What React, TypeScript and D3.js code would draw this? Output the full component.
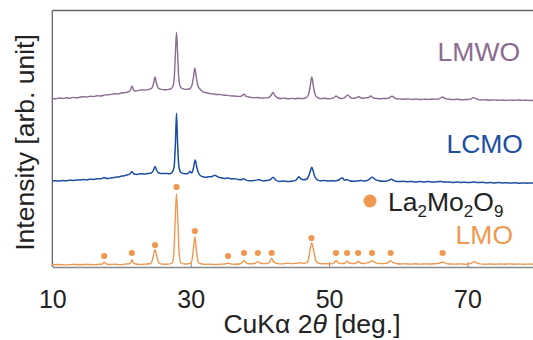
// App.tsx
import React, { useEffect, useRef } from "react";
import * as d3 from "d3";

// 2theta (deg) vs stacked intensity (arb. unit, offsets included)
const lmwo: [number, number][] = [
  [10, 168.5], [10.5, 168.2], [11, 169], [11.5, 168.6], [12, 169.2], [12.5, 168.8], [13, 169.6],
  [13.5, 169.2], [14, 169.8], [14.5, 170.3], [15, 170], [15.5, 170.8], [16, 170.5], [16.5, 171.3],
  [17, 171], [17.5, 171.9], [18, 172.2], [18.5, 172.6], [19, 173.3], [19.5, 173.1], [20, 174],
  [20.5, 174.4], [21, 175.2], [21.3, 177], [21.5, 181], [21.75, 177], [22, 176], [22.5, 176.6],
  [23, 177.3], [23.5, 176.9], [24, 177.6], [24.4, 179], [24.65, 184], [24.85, 190], [25.05, 184],
  [25.3, 179], [25.7, 177.6], [26.2, 177.2], [26.7, 177.4], [27.1, 178], [27.45, 181], [27.65, 192],
  [27.8, 215], [27.95, 234.5], [28.1, 215], [28.25, 192], [28.45, 181], [28.8, 178.3], [29.3, 177.6],
  [29.8, 178], [30.15, 181], [30.4, 190], [30.6, 199], [30.8, 190], [31.05, 181], [31.4, 177.5],
  [31.8, 175.2], [32.3, 174.2], [32.8, 173.4], [33.3, 173], [33.8, 172.5], [34.3, 172.4], [34.8, 171.8],
  [35.3, 171.6], [35.8, 171.1], [36.3, 171], [36.8, 170.6], [37.3, 170.8], [37.7, 172.7], [38.1, 170.4],
  [38.6, 169.8], [39.1, 169.3], [39.6, 169.5], [40.1, 168.9], [40.6, 169.1], [41.2, 169.4], [41.6, 171.5],
  [41.9, 174.5], [42.2, 171.2], [42.6, 169], [43.1, 168.5], [43.6, 168.8], [44.1, 168.2], [44.6, 168.6],
  [45.1, 168.3], [45.6, 168.7], [46.1, 168.4], [46.6, 169], [47, 172], [47.25, 180], [47.5, 190],
  [47.75, 180], [48, 172], [48.4, 169.2], [48.9, 168.4], [49.4, 168.7], [49.9, 168.2], [50.4, 168.6],
  [50.8, 169.8], [51, 171], [51.3, 169.6], [51.7, 168.5], [52.2, 169.2], [52.7, 172], [53.1, 169.4],
  [53.6, 168.6], [54.3, 170.2], [54.8, 168.7], [55.3, 169.1], [55.7, 169.4], [56, 171], [56.4, 169],
  [56.9, 168.5], [57.4, 168.2], [57.9, 168.5], [58.5, 168.6], [59.1, 170.8], [59.6, 168.5], [60.2, 168.1],
  [60.8, 167.8], [61.4, 168.1], [62, 167.6], [62.6, 167.9], [63.2, 167.5], [63.8, 167.8], [64.4, 167.6],
  [65, 168], [65.6, 167.8], [66, 168.6], [66.4, 170], [66.8, 168.3], [67.3, 167.8], [67.9, 167.4],
  [68.5, 167.7], [69.1, 167.2], [69.7, 167.5], [70.3, 167.6], [70.9, 169.4], [71.4, 167.6], [72, 167],
  [72.6, 167.3], [73.2, 166.8], [73.8, 167.1], [74.4, 166.7], [75, 167], [75.6, 166.6], [76.2, 166.9],
  [76.8, 166.7], [77.4, 167], [78, 166.6], [78.6, 166.8], [79.2, 166.5], [80, 166.7],
];

const lcmo: [number, number][] = [
  [10, 86], [10.5, 86.3], [11, 85.9], [11.5, 86.5], [12, 86.2], [12.5, 86.8], [13, 86.5], [13.5, 87.1],
  [14, 86.9], [14.5, 87.4], [15, 87.2], [15.5, 87.8], [16, 87.6], [16.5, 88.3], [17, 88.2], [17.5, 89.6],
  [17.9, 88.4], [18.4, 88.9], [18.9, 89.6], [19.4, 89.9], [19.9, 90.7], [20.4, 91.2], [20.9, 92.2],
  [21.2, 93], [21.5, 95.5], [21.8, 93], [22.3, 92.6], [22.8, 93.2], [23.3, 92.9], [23.8, 93.4],
  [24.3, 94], [24.6, 96.5], [24.85, 100.5], [25.1, 96.5], [25.4, 94], [25.9, 93.4], [26.4, 93.6],
  [26.9, 93.2], [27.3, 94.5], [27.6, 100], [27.8, 125], [27.95, 153.7], [28.1, 125], [28.3, 100],
  [28.6, 94.5], [29.1, 93.2], [29.6, 93.6], [29.9, 95.4], [30.15, 94], [30.4, 99], [30.65, 107],
  [30.9, 99], [31.2, 93], [31.6, 90.6], [32.1, 89.8], [32.6, 90.2], [33.1, 90.6], [33.5, 91.7],
  [33.9, 90.1], [34.4, 89.2], [34.9, 88.6], [35.4, 88.9], [35.9, 88.1], [36.4, 88.3], [36.9, 87.5],
  [37.3, 87.2], [37.6, 88.2], [38, 86.9], [38.6, 86.3], [39.2, 86.6], [39.9, 87.2], [40.5, 86.1],
  [41, 86.5], [41.5, 87.2], [41.9, 89.7], [42.3, 87], [42.8, 85.6], [43.4, 85.9], [44, 85.4],
  [44.6, 85.8], [45.1, 86.4], [45.4, 88.2], [45.6, 90.3], [45.9, 88.4], [46.3, 87.2], [46.8, 88],
  [47.1, 92], [47.3, 96], [47.5, 99.7], [47.7, 96], [47.9, 91], [48.3, 87.2], [48.8, 86.2],
  [49.3, 86.6], [49.8, 85.9], [50.3, 86.3], [50.8, 86], [51.3, 86.7], [51.9, 89.3], [52.2, 86.8],
  [52.5, 87.6], [53, 86.2], [53.5, 85.7], [54.1, 86.1], [54.6, 86.6], [55.1, 86.1], [55.7, 87.2],
  [56.2, 89.7], [56.7, 87.4], [57.2, 86.3], [57.8, 85.8], [58.4, 86.1], [59, 87.7], [59.5, 86],
  [60.1, 85.4], [60.7, 85.8], [61.3, 85.2], [61.9, 85.6], [62.5, 85.1], [63.1, 85.5], [63.7, 85],
  [64.3, 85.4], [64.9, 84.9], [65.5, 85.3], [66.1, 85.5], [66.7, 84.8], [67.3, 85.1], [67.9, 84.6],
  [68.5, 84.9], [69.1, 84.5], [69.7, 84.8], [70.3, 84.4], [70.9, 85.1], [71.5, 84.4], [72.1, 84.7],
  [72.7, 84.2], [73.3, 84.5], [73.9, 84.1], [74.5, 84.4], [75.1, 84], [75.7, 84.3], [76.3, 83.9],
  [76.9, 84.2], [77.5, 83.8], [78.1, 84.1], [78.7, 83.8], [79.3, 84], [80, 83.8],
];

const lmo: [number, number][] = [
  [10, 2.2], [11, 2.5], [12, 2.1], [13, 2.6], [14, 2.3], [15, 2.6], [16, 2.4], [16.9, 2.7],
  [17.2, 3], [17.5, 4.7], [17.8, 3], [18.3, 2.5], [19, 2.8], [19.8, 2.4], [20.5, 2.9], [21.1, 3.1],
  [21.3, 4.2], [21.5, 7.3], [21.7, 4.2], [22, 3], [22.7, 2.6], [23.4, 2.9], [24.1, 3.2], [24.4, 5.5],
  [24.6, 11], [24.85, 17.3], [25.1, 11], [25.3, 5.5], [25.6, 3.1], [26.2, 2.7], [26.8, 2.9],
  [27.3, 4], [27.55, 12], [27.75, 45], [27.95, 73], [28.15, 45], [28.35, 12], [28.6, 4], [29.1, 3],
  [29.7, 3.3], [30.1, 4.5], [30.35, 15], [30.6, 30.3], [30.85, 15], [31.1, 4.5], [31.6, 3],
  [32.2, 2.6], [32.8, 2.8], [33.5, 2.5], [34.2, 2.8], [34.9, 3], [35.4, 3.7], [35.9, 2.9], [36.5, 2.7],
  [37.2, 3.2], [37.45, 4.5], [37.7, 6.3], [37.95, 4.5], [38.3, 3.2], [38.9, 3.3], [39.4, 4],
  [39.7, 5.4], [40, 4], [40.6, 3.4], [41.2, 3.8], [41.45, 5.5], [41.7, 8.5], [41.95, 5.5], [42.3, 3.8],
  [42.9, 3.1], [43.5, 3.3], [44.1, 3.9], [44.6, 3.4], [45.2, 3.6], [45.8, 4.2], [46.3, 3.6],
  [46.8, 4.5], [47.05, 9], [47.3, 19], [47.5, 24], [47.75, 17], [48, 8], [48.3, 4.3], [48.9, 3.2],
  [49.5, 3.4], [50.2, 3.1], [50.7, 4], [51, 6.5], [51.3, 4.2], [51.8, 3.5], [52.3, 3.8], [52.6, 5.8],
  [52.9, 4], [53.5, 3.4], [53.9, 4], [54.2, 5.5], [54.5, 4], [55, 3.5], [55.6, 4.4], [55.9, 5],
  [56.2, 6.4], [56.5, 5], [56.9, 3.9], [57.5, 3.4], [58.2, 3.6], [58.6, 4.6], [58.9, 6.3], [59.2, 4.6],
  [59.7, 3.5], [60.4, 3], [61.1, 3.2], [61.8, 2.9], [62.5, 3.2], [63.2, 2.9], [63.9, 3.1], [64.6, 3],
  [65.3, 3.3], [65.9, 3.7], [66.4, 5], [66.9, 3.6], [67.5, 3], [68.2, 2.9], [68.9, 3.1], [69.6, 2.8],
  [70.3, 3.1], [70.7, 4.2], [71, 5.4], [71.3, 4.2], [71.8, 3.1], [72.5, 2.8], [73.2, 3], [73.9, 2.7],
  [74.6, 3], [75.3, 2.8], [76, 3.1], [76.7, 2.8], [77.4, 3], [78.1, 2.7], [78.8, 3], [79.5, 2.8], [80, 2.9],
];

// La2Mo2O9 reflection markers
const markers: [number, number][] = [
  [17.5, 11], [21.5, 14], [24.85, 22], [27.95, 80], [30.6, 36], [35.4, 11], [37.7, 14], [39.7, 14],
  [41.7, 14], [47.45, 29], [51.0, 14], [52.6, 14], [54.2, 14], [56.2, 14], [58.9, 14], [66.4, 14],
];

const xTicks = [10, 30, 50, 70];

const series = [
  { name: "LMWO", data: lmwo, color: "#8b6b91", lx: 520, ly: 61, width: 1.4 },
  { name: "LCMO", data: lcmo, color: "#1c4fa2", lx: 523, ly: 153, width: 1.5 },
  { name: "LMO", data: lmo, color: "#f0984f", lx: 513, ly: 244, width: 1.4 },
];

const FONT = '"Liberation Sans", Arial, Helvetica, sans-serif';

const App = () => {
  const ref = useRef<SVGSVGElement>(null);

  useEffect(() => {
    const svg = d3.select(ref.current);
    svg.selectAll("*").remove();

    const left = 52.3;
    const right = 536.7;
    const top = 10.5;
    const bottom = 267;

    const x = d3.scaleLinear().domain([10, 80]).range([left, right]);
    const y = d3.scaleLinear().domain([0, 256.5]).range([bottom, top]);

    // frame: top and left lines
    svg.append("line")
      .attr("x1", left).attr("x2", right).attr("y1", top).attr("y2", top)
      .attr("stroke", "#666").attr("stroke-width", 1.3);
    svg.append("line")
      .attr("x1", left).attr("x2", left).attr("y1", top).attr("y2", bottom)
      .attr("stroke", "#666").attr("stroke-width", 1.3);

    // x-axis
    const xAxis = svg.append("g")
      .attr("transform", `translate(0,${bottom})`)
      .call(
        d3.axisBottom(x)
          .tickValues(xTicks)
          .tickSizeInner(-5)
          .tickSizeOuter(0)
          .tickPadding(23)
          .tickFormat(d3.format("d"))
      );
    xAxis.select(".domain").attr("stroke", "#888").attr("stroke-width", 1.3);
    xAxis.selectAll(".tick line").attr("stroke", "#888").attr("stroke-width", 1);
    xAxis.selectAll(".tick text")
      .attr("fill", "#222")
      .style("font-family", FONT)
      .style("font-size", "25px");

    // patterns
    const line = d3.line<[number, number]>()
      .x((d) => x(d[0]))
      .y((d) => y(d[1]))
      .curve(d3.curveMonotoneX);

    series.forEach((s) => {
      svg.append("path")
        .datum(s.data)
        .attr("d", line)
        .attr("fill", "none")
        .attr("stroke", s.color)
        .attr("stroke-width", s.width)
        .attr("stroke-linejoin", "round");

      svg.append("text")
        .attr("x", s.lx)
        .attr("y", s.ly)
        .attr("text-anchor", "end")
        .attr("fill", s.color)
        .style("font-family", FONT)
        .style("font-size", "26.5px")
        .text(s.name);
    });

    // La2Mo2O9 markers
    svg.selectAll("circle.marker")
      .data(markers)
      .enter()
      .append("circle")
      .attr("class", "marker")
      .attr("cx", (d) => x(d[0]))
      .attr("cy", (d) => y(d[1]))
      .attr("r", 3.1)
      .attr("fill", "#f0984f");

    // legend
    svg.append("circle")
      .attr("cx", 370).attr("cy", 201).attr("r", 6.5)
      .attr("fill", "#f0984f");
    const leg = svg.append("text")
      .attr("x", 388).attr("y", 211)
      .attr("fill", "#222")
      .style("font-family", FONT)
      .style("font-size", "26.5px");
    const parts: [string, boolean][] = [["La", false], ["2", true], ["Mo", false], ["2", true], ["O", false], ["9", true]];
    parts.forEach(([t, sub], i) => {
      const prevSub = i > 0 && parts[i - 1][1];
      leg.append("tspan")
        .attr("dy", sub ? 6 : prevSub ? -6 : 0)
        .style("font-size", sub ? "17px" : "26.5px")
        .text(t);
    });

    // axis titles
    const xt = svg.append("text")
      .attr("x", 312).attr("y", 333)
      .attr("text-anchor", "middle")
      .attr("fill", "#222")
      .style("font-family", FONT)
      .style("font-size", "26.5px");
    xt.append("tspan").text("CuKα 2");
    xt.append("tspan").style("font-style", "italic").text("θ");
    xt.append("tspan").text(" [deg.]");

    svg.append("text")
      .attr("transform", "translate(34,142.5) rotate(-90)")
      .attr("text-anchor", "middle")
      .attr("fill", "#222")
      .style("font-family", FONT)
      .style("font-size", "26.5px")
      .text("Intensity [arb. unit]");
  }, []);

  return (
    <svg
      ref={ref}
      width={533}
      height={340}
      style={{ position: "absolute", left: 0, top: 0, background: "#fff" }}
    />
  );
};

export default App;
